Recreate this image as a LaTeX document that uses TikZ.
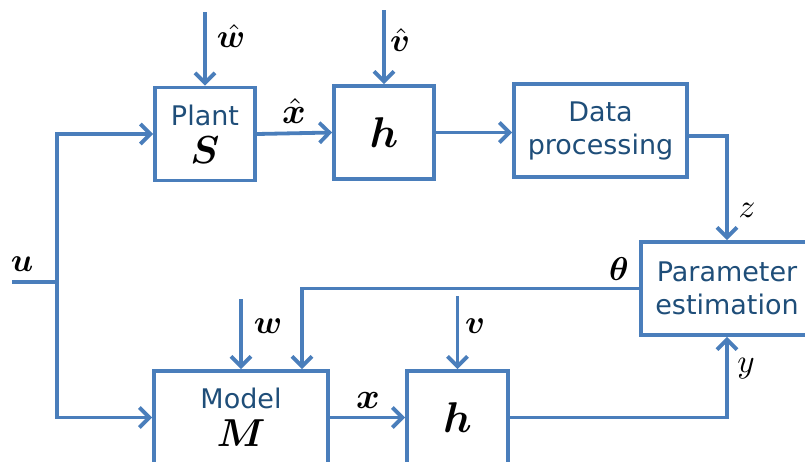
\documentclass[tikz,border=0pt]{standalone}
\usepackage{fontspec}
\usepackage{bm}
\usepackage{graphicx}
\newfontfamily\boxfont{DejaVu Sans}
\usetikzlibrary{arrows.meta}
\definecolor{lineblue}{HTML}{4A7EBB}
\definecolor{textblue}{HTML}{1F4E79}
\newcommand{\mymath}[2][3.3]{{\normalsize\color{black}\scalebox{#1}{$#2$}}}
\begin{document}
\begin{tikzpicture}[x=1pt,y=-1pt,
  line width=3.8pt,
  blk/.style={draw=lineblue, line width=3.8pt, rectangle, minimum height=93pt, inner sep=0pt,
     align=center, text=textblue, font=\boxfont\fontsize{27}{33}\selectfont},
  arr/.style={draw=lineblue, -{Straight Barb[length=10pt,width=20pt,line width=3.8pt]}},
  ln/.style={draw=lineblue},
  lbl/.style={inner sep=0pt}]
\path[use as bounding box] (0,0) rectangle (805,461);
\clip (0,0) rectangle (805,461);

\node[blk, minimum width=100pt] (plant) at (205,134) {Plant\\[5pt]\mymath[3.9]{\bm{S}}};
\node[blk, minimum width=100pt] (htop) at (384,132.5) {\mymath[4.3]{\bm{h}}};
\node[blk, minimum width=173pt] (data) at (600.5,130.5) {Data\\processing};
\node[blk, minimum width=172pt] (param) at (727,288.5) {Parameter\\estimation};
\node[blk, minimum width=174pt] (model) at (241,417.5) {Model\\[5pt]\mymath[3.9]{\bm{M}}};
\node[blk, minimum width=101pt] (hbot) at (457.5,417.5) {\mymath[4.3]{\bm{h}}};

\coordinate (uin) at (12,282);
\coordinate (uj) at (57,282);
\coordinate (wtop) at (205,12);
\coordinate (vtop) at (384,10);
\coordinate (wbot) at (241,299);
\coordinate (vbot) at (457.5,296);

\draw[ln] (uin) -- (uj);
\draw[arr] (uj) |- (plant.west);
\draw[arr] (uj) |- (model.west);
\draw[arr] (plant.east) -- (htop.west);
\draw[arr] (htop.east) -- (htop.east -| data.west);
\draw[arr] ([yshift=-5.5pt]data.east) -| (param.north);
\draw[arr] (param.west) -| ([xshift=61pt]model.north);
\draw[arr] (model.east) -- (hbot.west);
\draw[arr] (hbot.east) -| (param.south);
\draw[arr] (wtop) -- (plant.north);
\draw[arr] (vtop) -- (htop.north);
\draw[arr] (wbot) -- (model.north);
\draw[arr] (vbot) -- (hbot.north);

\node[lbl] (lwh) at (231,36) {\mymath{\bm{\hat{w}}}};
\node[lbl] (lvh) at (400,40) {\mymath{\bm{\hat{v}}}};
\node[lbl] (lxh) at (294,111) {\mymath[3.6]{\bm{\hat{x}}}};
\node[lbl] (lz) at (747,210) {\mymath{z}};
\node[lbl] (lth) at (619,269) {\mymath{\bm{\theta}}};
\node[lbl] (lw) at (268,326) {\mymath{\bm{w}}};
\node[lbl] (lv) at (475,326) {\mymath{\bm{v}}};
\node[lbl] (lx) at (368,400) {\mymath[3.6]{\bm{x}}};
\node[lbl] (ly) at (746,369) {\mymath{y}};
\node[lbl] (lu) at (22,264) {\mymath{\bm{u}}};
\end{tikzpicture}
\end{document}
